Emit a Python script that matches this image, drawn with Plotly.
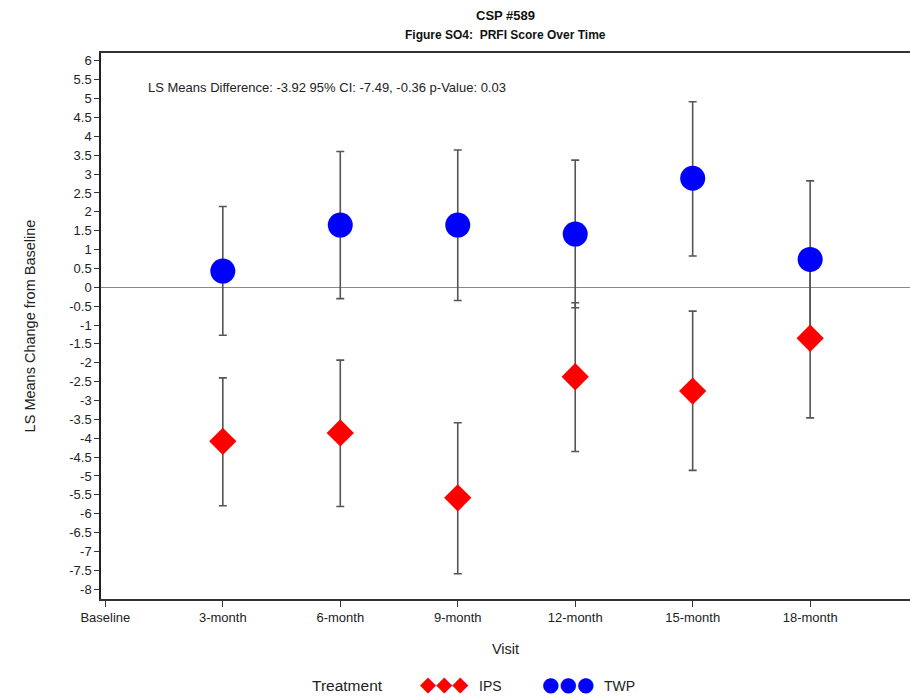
import plotly.graph_objects as go

visits = ["Baseline", "3-month", "6-month", "9-month", "12-month", "15-month", "18-month"]
data_visits = ["3-month", "6-month", "9-month", "12-month", "15-month", "18-month"]

ips_mean = [-4.08, -3.86, -5.58, -2.37, -2.75, -1.35]
ips_upper = [-2.40, -1.93, -3.59, -0.41, -0.63, 0.76]
ips_lower = [-5.79, -5.81, -7.59, -4.35, -4.85, -3.46]

twp_mean = [0.43, 1.65, 1.65, 1.41, 2.89, 0.74]
twp_upper = [2.14, 3.60, 3.64, 3.37, 4.92, 2.82]
twp_lower = [-1.27, -0.30, -0.35, -0.54, 0.83, -1.34]

y_tick_vals = [6, 5.5, 5, 4.5, 4, 3.5, 3, 2.5, 2, 1.5, 1, 0.5, 0, -0.5, -1, -1.5, -2,
               -2.5, -3, -3.5, -4, -4.5, -5, -5.5, -6, -6.5, -7, -7.5, -8]
y_tick_text = ["6", "5.5", "5", "4.5", "4", "3.5", "3", "2.5", "2", "1.5", "1", "0.5", "0",
               "-0.5", "-1", "-1.5", "-2", "-2.5", "-3", "-3.5", "-4", "-4.5", "-5", "-5.5",
               "-6", "-6.5", "-7", "-7.5", "-8"]

FONT = "Liberation Sans, Arial, sans-serif"
TITLE_FONT = "Liberation Sans, Arial, sans-serif"

fig = go.Figure()

def err_trace(means, upper, lower):
    return go.Scatter(
        x=data_visits, y=means, mode="markers",
        marker=dict(color="rgba(0,0,0,0)", size=1),
        error_y=dict(type="data", symmetric=False,
                     array=[u - m for u, m in zip(upper, means)],
                     arrayminus=[m - l for m, l in zip(means, lower)],
                     color="#555555", thickness=1.6, width=4),
        showlegend=False, hoverinfo="skip")

fig.add_trace(err_trace(ips_mean, ips_upper, ips_lower))
fig.add_trace(err_trace(twp_mean, twp_upper, twp_lower))

fig.add_trace(go.Scatter(
    x=data_visits, y=ips_mean, mode="markers", name="IPS", showlegend=False,
    marker=dict(symbol="diamond", size=21, color="#ff0000", line=dict(width=0))))
fig.add_trace(go.Scatter(
    x=data_visits, y=twp_mean, mode="markers", name="TWP", showlegend=False,
    marker=dict(symbol="circle", size=25, color="#0000ff", line=dict(width=0))))

legend_text_y = -0.159
legend_glyph_y = -0.156

fig.update_layout(
    width=910, height=697,
    margin=dict(l=101, r=0, t=53, b=98),
    paper_bgcolor="white", plot_bgcolor="white",
    font=dict(family=FONT, size=13, color="#222222"),
    showlegend=False,
    xaxis=dict(
        type="category", categoryorder="array", categoryarray=visits,
        range=[-0.037, 6.85],
        showline=True, linecolor="#333333", linewidth=1.5, mirror=True,
        ticks="outside", ticklen=6, tickcolor="#333333", tickwidth=1,
        showgrid=False, zeroline=False,
        tickfont=dict(size=13, family=FONT, color="#222222"),
        title=dict(text="Visit", font=dict(size=14.5, family=FONT, color="#222222"), standoff=20),
    ),
    yaxis=dict(
        range=[-8.26, 6.21],
        tickvals=y_tick_vals, ticktext=y_tick_text,
        showline=True, linecolor="#222222", linewidth=1.5, mirror=False,
        ticks="outside", ticklen=5, tickcolor="#333333", tickwidth=1,
        showgrid=False,
        zeroline=True, zerolinecolor="#888888", zerolinewidth=1,
        tickfont=dict(size=13, family=FONT, color="#222222"),
        automargin=False,
        title=dict(text="LS Means Change from Baseline",
                   font=dict(size=14.5, family=FONT, color="#222222"), standoff=30),
    ),
    annotations=[
        dict(text="<b>CSP #589</b>", xref="paper", yref="paper", x=0.5, y=1.0,
             yshift=38, xanchor="center", yanchor="middle", showarrow=False,
             font=dict(size=13, family=TITLE_FONT, color="#111111")),
        dict(text="<b>Figure SO4:  PRFI Score Over Time</b>", xref="paper", yref="paper",
             x=0.5, y=1.0, yshift=18, xanchor="center", yanchor="middle", showarrow=False,
             font=dict(size=12, family=TITLE_FONT, color="#111111")),
        dict(text="LS Means Difference: -3.92 95% CI: -7.49, -0.36 p-Value: 0.03",
             xref="paper", yref="paper", x=0.056, y=0.937, xanchor="left", yanchor="middle",
             showarrow=False, font=dict(size=13, family=FONT, color="#222222")),
        # legend
        dict(text="Treatment", xref="paper", yref="paper", x=0.305, y=legend_text_y,
             xanchor="center", yanchor="middle", showarrow=False,
             font=dict(size=15.5, family=FONT, color="#222222")),
        dict(text="◆◆◆", xref="paper", yref="paper", x=0.424, y=legend_glyph_y,
             xanchor="center", yanchor="middle", showarrow=False,
             font=dict(size=21, family="DejaVu Sans", color="#ff0000")),
        dict(text="IPS", xref="paper", yref="paper", x=0.482, y=legend_text_y,
             xanchor="center", yanchor="middle", showarrow=False,
             font=dict(size=14, family=FONT, color="#222222")),
        dict(text="●●●", xref="paper", yref="paper", x=0.577, y=legend_glyph_y,
             xanchor="center", yanchor="middle", showarrow=False,
             font=dict(size=20, family="DejaVu Sans", color="#0000ff")),
        dict(text="TWP", xref="paper", yref="paper", x=0.641, y=legend_text_y,
             xanchor="center", yanchor="middle", showarrow=False,
             font=dict(size=14, family=FONT, color="#222222")),
    ],
)

fig.write_html(
    "out.html",
    config={"displayModeBar": False},
    post_script="document.body.style.margin='0';document.body.style.overflow='hidden';",
)
